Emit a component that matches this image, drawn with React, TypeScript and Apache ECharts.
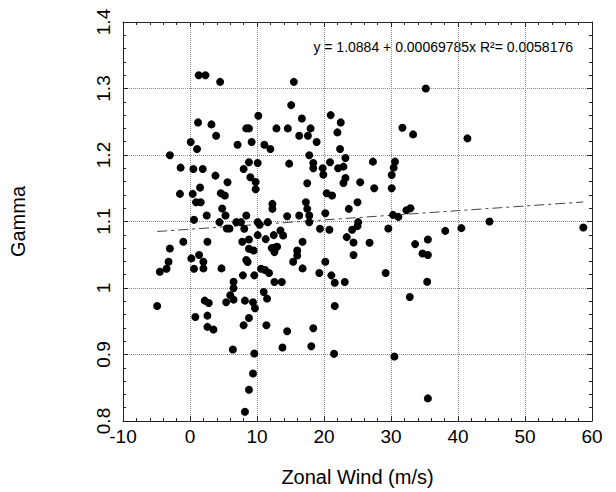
import React, { useEffect, useRef } from "react";
import * as echarts from "echarts";

const windX = [
  1.3, 2.3, 4.5, 15.5, 35.2, 15.1, 10.2, 16.7, 21.0, 1.2, 3.2, 22.5, 8.4, 8.8, 12.9, 14.6, 18.0, 31.7, 3.9, 16.3,
  17.6, 33.3, 22.0, 41.4, 0.1, 9.2, 7.1, 11.1, 18.9, 1.05, 12.0, 22.4, -3.0, 17.8, 23.2, 8.8, 10.1, 14.8, 18.4, 20.9,
  27.3, 30.6, -1.4, 0.5, 1.9, 8.0, 18.4, 19.8, 22.1, 22.9, 30.4, 3.8, 9.0, 19.9, 30.1, 23.2, 5.6, 9.8, 17.5, 22.9,
  25.4, 1.5, 9.8, 27.5, 30.1, -1.5, 0.4, 4.6, 5.2, 20.4, 21.2, 0.9, 1.6, 12.3, 17.3, 25.0, 4.8, 12.3, 17.5, 23.7,
  32.3, 32.9, 20.2, 2.5, 5.3, 8.4, 14.5, 16.3, 17.8, 30.3, 31.1, 0.6, 4.4, 6.9, 7.6, 10.1, 11.6, 17.8, 25.1, 44.7,
  10.4, 25.0, 5.5, 5.9, 8.1, 19.4, 20.8, 24.2, 29.6, 40.5, 58.7, 38.1, 13.5, 13.9, 10.1, 12.5, 23.4, 11.3, 35.5, -1.0,
  2.6, 7.8, 8.8, 16.8, 26.8, 24.4, 33.6, -3.0, 8.8, 9.5, 12.2, 12.7, 13.0, 16.0, 12.6, 34.7, 35.5, 1.35, 0.2, 16.0,
  24.4, -3.2, 2.0, 8.4, 8.6, 15.4, 20.2, -4.5, -3.5, 0.6, 2.0, 4.7, 10.6, 11.2, 16.8, 11.8, 7.9, 9.6, 19.3, 21.1,
  29.2, 6.5, 12.6, 13.7, 21.6, 23.1, 35.4, 6.5, 11.0, 6.0, 6.5, 32.8, 11.5, 2.2, 2.8, 5.4, 8.2, 9.4, 9.7, -4.9,
  21.6, 0.8, 2.6, 8.8, 2.6, 3.5, 8.0, 11.4, 18.4, 14.5, 6.4, 13.8, 18.1, 9.6, 21.5, 30.5, 9.4, 8.8, 35.5, 8.2,
];

const gamma = [
  1.32, 1.32, 1.31, 1.31, 1.3, 1.275, 1.259, 1.255, 1.26, 1.249, 1.246, 1.249, 1.24, 1.24, 1.24, 1.24, 1.24, 1.241, 1.229, 1.229,
  1.229, 1.231, 1.234, 1.225, 1.2195, 1.2195, 1.2155, 1.2155, 1.2195, 1.209, 1.209, 1.209, 1.1995, 1.1995, 1.1955, 1.189, 1.188, 1.187, 1.188, 1.189,
  1.19, 1.19, 1.181, 1.179, 1.179, 1.179, 1.18, 1.18, 1.18, 1.1825, 1.181, 1.169, 1.1665, 1.1705, 1.17, 1.1655, 1.159, 1.1595, 1.1575, 1.158,
  1.159, 1.151, 1.1485, 1.15, 1.15, 1.1415, 1.1415, 1.1425, 1.139, 1.1425, 1.139, 1.129, 1.129, 1.1265, 1.129, 1.129, 1.1195, 1.119, 1.119, 1.119,
  1.117, 1.12, 1.1125, 1.109, 1.109, 1.109, 1.108, 1.109, 1.109, 1.11, 1.107, 1.1025, 1.099, 1.099, 1.099, 1.099, 1.099, 1.099, 1.099, 1.1,
  1.095, 1.093, 1.0895, 1.0895, 1.089, 1.089, 1.0875, 1.0875, 1.0894, 1.09, 1.091, 1.0859, 1.0865, 1.079, 1.0795, 1.0795, 1.0765, 1.0735, 1.073, 1.0695,
  1.0695, 1.0695, 1.073, 1.0695, 1.068, 1.0685, 1.066, 1.0595, 1.059, 1.0565, 1.06, 1.061, 1.062, 1.0565, 1.054, 1.052, 1.0495, 1.0495, 1.0445, 1.049,
  1.0495, 1.0395, 1.0395, 1.042, 1.039, 1.0395, 1.0395, 1.0245, 1.029, 1.029, 1.0295, 1.0295, 1.029, 1.027, 1.0295, 1.0225, 1.019, 1.019, 1.0225, 1.019,
  1.0225, 1.0095, 1.009, 1.009, 1.008, 1.009, 1.0095, 0.9995, 0.994, 0.989, 0.9825, 0.9865, 0.984, 0.981, 0.9775, 0.9785, 0.981, 0.9785, 0.9695, 0.973,
  0.973, 0.9565, 0.9585, 0.955, 0.9415, 0.9375, 0.944, 0.944, 0.9395, 0.935, 0.9075, 0.9105, 0.9125, 0.9015, 0.901, 0.897, 0.8715, 0.847, 0.834, 0.814,
];

const xTicks = { min: -10, max: 60, interval: 10 };
const yTicks = { min: 0.8, max: 1.4, interval: 0.1 };
const fitIntercept = [1.0884];
const fitSlope = [0.00069785];
const equationText = ["y = 1.0884 + 0.00069785x R²= 0.0058176"];

const FONT = "'Liberation Sans', Arial, Helvetica, sans-serif";

export default function App() {
  const ref = useRef<HTMLDivElement>(null);
  useEffect(() => {
    if (!ref.current) return;
    const chart = echarts.init(ref.current, null, { renderer: "svg" });
    const pts = windX.map((x, i) => [x, gamma[i]]);
    const xmin = Math.min(...windX);
    const xmax = Math.max(...windX);
    const fit = [
      [xmin, fitIntercept[0] + fitSlope[0] * xmin],
      [xmax, fitIntercept[0] + fitSlope[0] * xmax],
    ];
    const frameLine = { show: true, onZero: false, lineStyle: { color: "#222", width: 1 } };
    const tick = { show: true, inside: true, length: 5, lineStyle: { color: "#222", width: 1 } };
    const minor = { show: true, splitNumber: 5, length: 3, lineStyle: { color: "#222", width: 1 } };
    const grid = { show: true, lineStyle: { type: "dotted", color: "#888", width: 1 } };
    chart.setOption({
      animation: false,
      backgroundColor: "#fff",
      textStyle: { fontFamily: FONT },
      grid: { left: 122, right: 24, top: 22, bottom: 69, containLabel: false },
      xAxis: [
        {
          type: "value",
          position: "bottom",
          ...xTicks,
          axisLine: frameLine,
          axisTick: tick,
          minorTick: minor,
          splitLine: grid,
          axisLabel: { fontSize: 19, color: "#000", margin: 6, fontFamily: FONT },
          name: "Zonal Wind (m/s)",
          nameLocation: "middle",
          nameGap: 46,
          nameTextStyle: { fontSize: 20, color: "#000", fontFamily: FONT },
        },
        {
          type: "value",
          position: "top",
          ...xTicks,
          axisLine: frameLine,
          axisTick: tick,
          minorTick: minor,
          splitLine: { show: false },
          axisLabel: { show: false },
        },
      ],
      yAxis: [
        {
          type: "value",
          position: "left",
          ...yTicks,
          axisLine: frameLine,
          axisTick: tick,
          minorTick: minor,
          splitLine: grid,
          axisLabel: { fontSize: 19, color: "#000", margin: 10, rotate: 90, fontFamily: FONT },
          name: "Gamma",
          nameLocation: "middle",
          nameGap: 95,
          nameTextStyle: { fontSize: 20, color: "#000", fontFamily: FONT },
        },
        {
          type: "value",
          position: "right",
          ...yTicks,
          axisLine: frameLine,
          axisTick: tick,
          minorTick: minor,
          splitLine: { show: false },
          axisLabel: { show: false },
        },
      ],
      series: [
        {
          type: "line",
          data: fit,
          showSymbol: false,
          symbol: "none",
          silent: true,
          lineStyle: { color: "#444", width: 1, type: [10, 4, 3, 4] },
          z: 1,
        },
        {
          type: "scatter",
          data: pts,
          symbol: "circle",
          symbolSize: 8,
          itemStyle: { color: "#000", opacity: 1 },
          z: 3,
        },
      ],
      graphic: [
        {
          type: "text",
          right: 43,
          top: 40,
          style: { text: equationText[0], fontSize: 14, fill: "#000", fontFamily: FONT },
        },
      ],
    });
    return () => chart.dispose();
  }, []);
  return (
    <div
      ref={ref}
      style={{ position: "absolute", left: 0, top: 0, width: 616, height: 492, background: "#fff" }}
    />
  );
}
